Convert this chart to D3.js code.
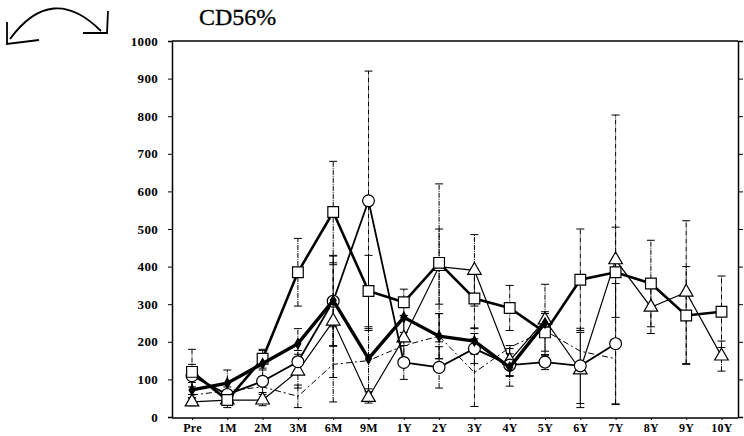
<!DOCTYPE html>
<html>
<head>
<meta charset="utf-8">
<script src="https://cdn.jsdelivr.net/npm/d3@7/dist/d3.min.js"></script>
<style>
    body { margin: 0; background: #fff; }
    .tick text { font-family: "Liberation Serif", "DejaVu Serif", serif; font-weight: bold; }
</style>
</head>
<body>
<script>
//categories on the x axis
var categories = ["Pre", "1M", "2M", "3M", "6M", "9M", "1Y", "2Y", "3Y", "4Y", "5Y", "6Y", "7Y", "8Y", "9Y", "10Y"];
var yTicks = [0, 100, 200, 300, 400, 500, 600, 700, 800, 900, 1000];

//series values (null = no point)
var squareVals = [120, 45, 155, 385, 545, 335, 305, 410, 315, 290, 225, 365, 385, 355, 270, 280];
var squareErr  = [60, 20, 25, 90, 135, 95, 35, 210, 80, 60, 50, 135, 120, 115, 130, 95];
var circleVals = [110, 60, 95, 147, 308, 575, 145, 132, 182, 138, 146, 136, 195, null, null, null];
var circleErr  = [30, 20, 30, 30, 120, 345, 45, 55, 40, 30, 20, 100, 160, null, null, null];
var thickVals  = [72, 90, 142, 195, 310, 155, 265, 215, 202, 132, 250, null, null, null, null, null];
var thickErr   = [20, 35, 35, 40, 120, 80, 40, 60, 35, 50, 30, null, null, null, null, null];
var triVals    = [40, 45, 45, 122, 255, 52, 210, 400, 390, 150, 258, 125, 418, 292, 332, 162];
var triErr     = [10, 10, 15, 45, 150, 15, 60, 100, 95, 40, 95, 100, 385, 70, 190, 40];
var dashVals   = [58, 70, 80, 55, 140, 150, 190, 215, 118, 185, 230, 175, 155, null, null, null];
var dashErr    = [null, null, null, 30, 100, null, null, 60, 90, null, null, null, null, null, null, null];

var width = 744,
    height = 436;

var svg = d3.select("body")
    .append("svg")
    .attr("width", width)
    .attr("height", height);

//plot frame
var frameLeft = 172, frameRight = 738, frameTop = 41, frameBottom = 417;

var x = d3.scalePoint()
    .domain(categories)
    .range([192, 721.5]);

var y = d3.scaleLinear()
    .domain([0, 1000])
    .range([frameBottom, frameTop]);

//curved arrow at top left
var arrow = svg.append("g")
    .attr("fill", "none")
    .attr("stroke", "#000")
    .attr("stroke-width", 1.8);
arrow.append("path").attr("d", "M10,39 Q52,-18 101,31");
arrow.append("path").attr("d", "M7,22 L7,44 L39,40");
arrow.append("path").attr("d", "M108,11 L107,33 L83,33");

//title
svg.append("text")
    .attr("x", 199)
    .attr("y", 25)
    .attr("font-family", "Liberation Serif, serif")
    .attr("font-size", 24)
    .attr("stroke", "#000")
    .attr("stroke-width", 0.3)
    .text("CD56%");

//left axis
svg.append("g")
    .attr("transform", "translate(" + frameLeft + ",0)")
    .call(d3.axisLeft(y).tickValues(yTicks).tickSize(4).tickPadding(10).tickFormat(d3.format("d")))
    .call(function(g){
        g.selectAll("text").attr("font-size", 13).attr("letter-spacing", 0.3);
        g.select(".domain").attr("stroke-width", 1.5);
    });

//right axis
svg.append("g")
    .attr("transform", "translate(" + frameRight + ",0)")
    .call(d3.axisRight(y).tickValues(yTicks).tickSize(5).tickFormat(""))
    .call(function(g){ g.select(".domain").attr("stroke-width", 1.5); });

//bottom axis
svg.append("g")
    .attr("transform", "translate(0," + (frameBottom + 1) + ")")
    .call(d3.axisBottom(x).tickSize(2).tickPadding(3).tickSizeOuter(0))
    .call(function(g){
        g.select(".domain").attr("d", "M" + frameLeft + ",0H" + frameRight).attr("stroke-width", 1.5);
        g.selectAll("text").attr("font-size", 12).attr("letter-spacing", 0.3);
    });

//top frame line
svg.append("line")
    .attr("x1", frameLeft).attr("x2", frameRight)
    .attr("y1", frameTop).attr("y2", frameTop)
    .attr("stroke", "#000")
    .attr("stroke-width", 1.5);

//series definitions (styles only)
var series = [
    {vals: dashVals,   err: dashErr,   width: 1,   dash: "6,3,2,3", mark: "none"},
    {vals: triVals,    err: triErr,    width: 1.2, dash: null,      mark: "triangle"},
    {vals: circleVals, err: circleErr, width: 1.8, dash: null,      mark: "circle"},
    {vals: squareVals, err: squareErr, width: 2.6, dash: null,      mark: "square"},
    {vals: thickVals,  err: thickErr,  width: 3.4, dash: null,      mark: "diamond"}
];

var symbolType = {
    triangle: d3.symbolTriangle,
    circle: d3.symbolCircle,
    square: d3.symbolSquare,
    diamond: d3.symbolDiamond
};
var symbolSize = {triangle: 80, circle: 110, square: 115, diamond: 30};

var line = d3.line()
    .defined(function(d){ return d.v !== null; })
    .x(function(d){ return x(d.c); })
    .y(function(d){ return y(d.v); });

//error bars first
series.forEach(function(s){
    var pts = categories.map(function(c, i){ return {c: c, v: s.vals[i], e: s.err[i]}; })
        .filter(function(d){ return d.v !== null && d.e !== null; });
    var eb = svg.append("g")
        .attr("stroke", "#000")
        .attr("stroke-width", 1);
    eb.selectAll("line.v")
        .data(pts)
        .enter()
        .append("line")
        .attr("stroke-dasharray", "5,1,1,1")
        .attr("x1", function(d){ return x(d.c); })
        .attr("x2", function(d){ return x(d.c); })
        .attr("y1", function(d){ return y(Math.max(0, d.v - d.e)); })
        .attr("y2", function(d){ return y(d.v + d.e); });
    eb.selectAll("line.cap")
        .data(pts.concat(pts.map(function(d){ return {c: d.c, v: d.v, e: -d.e}; })))
        .enter()
        .append("line")
        .attr("x1", function(d){ return x(d.c) - 4; })
        .attr("x2", function(d){ return x(d.c) + 4; })
        .attr("y1", function(d){ return y(Math.max(0, d.v + d.e)); })
        .attr("y2", function(d){ return y(Math.max(0, d.v + d.e)); });
});

//lines and markers
series.forEach(function(s){
    var pts = categories.map(function(c, i){ return {c: c, v: s.vals[i]}; });
    svg.append("path")
        .datum(pts)
        .attr("fill", "none")
        .attr("stroke", "#000")
        .attr("stroke-width", s.width)
        .attr("stroke-dasharray", s.dash)
        .attr("d", line);
    if (s.mark === "none") return;
    svg.selectAll(null)
        .data(pts.filter(function(d){ return d.v !== null; }))
        .enter()
        .append("path")
        .attr("transform", function(d){ return "translate(" + x(d.c) + "," + y(d.v) + ")"; })
        .attr("d", d3.symbol().type(symbolType[s.mark]).size(symbolSize[s.mark]))
        .attr("fill", s.mark === "diamond" ? "#000" : "#fff")
        .attr("stroke", "#000")
        .attr("stroke-width", 1.2);
});
</script>
</body>
</html>
